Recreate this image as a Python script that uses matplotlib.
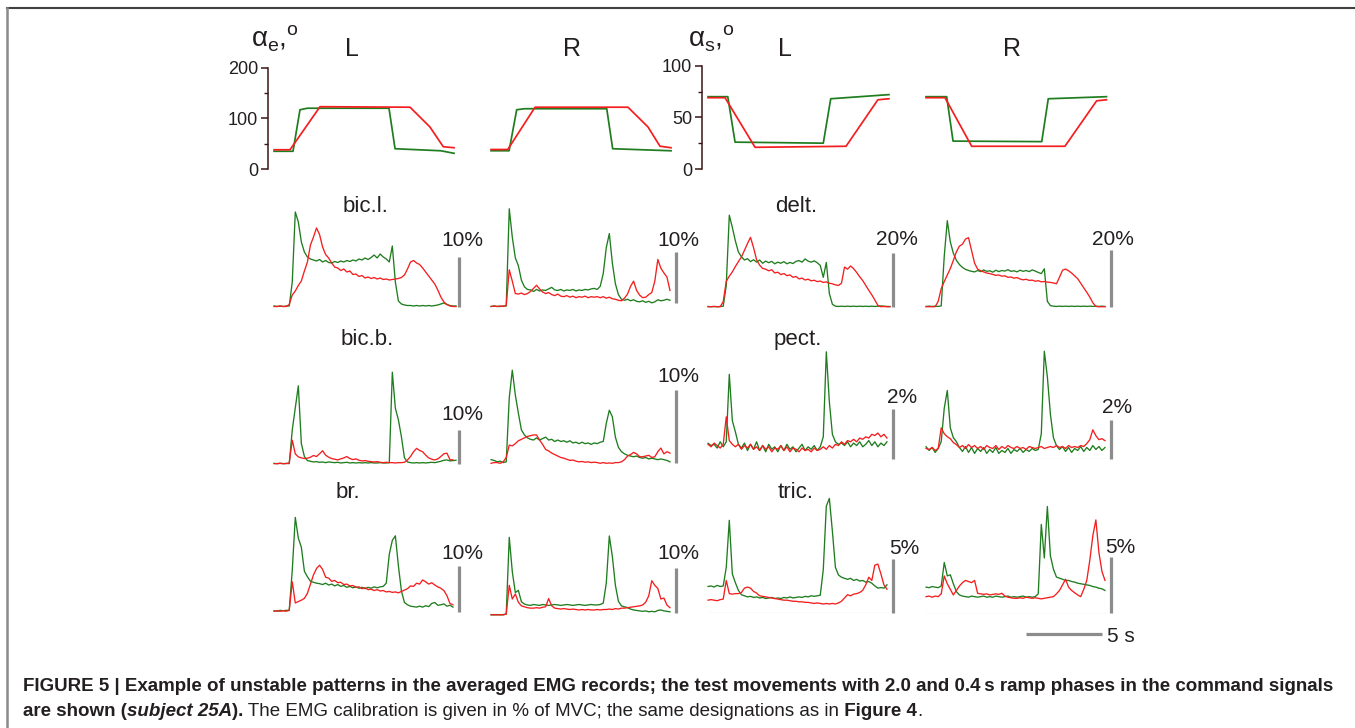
import numpy as np
import matplotlib
matplotlib.use("Agg")
import matplotlib.pyplot as plt
from matplotlib.lines import Line2D
from matplotlib.text import Annotation

nan = np.nan

# ---------------------------------------------------------------- data
# joint angles, deg (break-points of the averaged records), time in s
elbow_L_t_red = [0, 1.05, 3.03, 8.97, 10.28, 11.16, 11.87]
elbow_L_red = [38, 38, 123, 122, 83, 44, 42]
elbow_L_t_green = [0, 1.25, 1.71, 2.2, 7.58, 7.98, 11.0, 11.87]
elbow_L_green = [35, 35, 117, 120, 120, 40, 36, 31]

elbow_R_t_red = [0, 1.1, 2.9, 9.03, 10.35, 11.14, 11.87]
elbow_R_red = [38.5, 38.5, 122, 122, 83, 45, 42]
elbow_R_t_green = [0, 1.19, 1.69, 2.2, 7.63, 8.02, 11.87]
elbow_R_green = [36, 36, 117, 119, 119, 40, 36]

shoulder_L_t_red = [0, 1.12, 3.1, 9.1, 11.2, 11.93]
shoulder_L_red = [69, 69, 21, 22, 67, 68]
shoulder_L_t_green = [0, 1.3, 1.78, 7.6, 8.09, 11.93]
shoulder_L_green = [70, 70, 26, 25, 68, 72]

shoulder_R_t_red = [0, 1.25, 3.01, 9.16, 11.25, 11.9]
shoulder_R_red = [69, 69, 22, 22, 66, 67]
shoulder_R_t_green = [0, 1.36, 1.78, 7.63, 8.06, 11.9]
shoulder_R_green = [70, 70, 27, 26.5, 68, 70]

# averaged EMG, % of MVC, sampled every 0.2 s
T = np.round(np.arange(61) * 0.2, 1)

bicl_L_green = [0.2, 0.1, 0.2, 0.1, 0.2, 0.2, 5.0, 19.0, 17.0, 13.0,
                11.0, 10.0, 9.6, 9.4, 9.2, 9.5, 9.0, 9.3, 8.9, 8.8,
                9.1, 8.9, 9.2, 9.0, 9.3, 9.1, 9.4, 9.2, 9.6, 9.4,
                9.8, 9.5, 9.9, 10.4, 9.8, 10.6, 10.0, 9.6, 9.0, 12.2,
                5.0, 1.2, 0.6, 0.4, 0.3, 0.3, 0.2, 0.3, 0.2, 0.3,
                0.2, 0.3, 0.2, 0.3, 0.4, 0.6, 0.8, 0.5, 0.3, 0.2,
                0.2]
bicl_L_red = [0.1, 0.1, 0.2, 0.1, 0.1, 0.5, 2.4, 3.2, 4.3, 5.2,
              7.2, 9.0, 12.4, 14.0, 15.8, 14.5, 12.0, 10.5, 9.8, 8.8,
              8.0, 7.8, 7.3, 7.6, 7.0, 7.2, 6.5, 6.6, 6.1, 6.3,
              5.8, 6.0, 5.7, 5.9, 5.6, 5.8, 5.5, 5.6, 5.4, 5.5,
              5.6, 5.7, 5.9, 6.4, 7.6, 9.0, 9.3, 8.8, 8.5, 7.8,
              7.0, 6.2, 5.4, 4.6, 3.4, 2.0, 1.0, 0.5, 0.2, 0.1,
              0.1]
bicl_R_green = [0.1, 0.2, 0.1, 0.1, 0.2, 0.2, 19.0, 13.5, 9.5, 8.0,
                5.2, 3.9, 3.4, 3.3, 3.0, 3.4, 3.1, 3.3, 3.2, 3.5,
                3.8, 3.3, 3.2, 3.4, 3.1, 3.3, 3.2, 3.4, 3.1, 3.3,
                3.2, 3.4, 3.3, 3.5, 3.6, 3.4, 4.0, 6.5, 11.5, 14.2,
                8.5, 4.5, 2.4, 1.5, 1.3, 1.5, 1.2, 1.4, 1.1, 1.0,
                1.2, 0.9, 1.1, 0.8, 1.0, 1.4, 1.2, 1.3, 1.5, 1.3,
                nan]
bicl_R_red = [0.1, 0.2, 0.1, 0.2, 0.1, 0.3, 7.2, 5.0, 2.6, 2.5,
              2.7, 2.4, 2.6, 3.0, 3.6, 4.2, 3.5, 2.9, 2.6, 2.8,
              2.4, 2.2, 2.5, 2.1, 2.0, 2.2, 1.9, 2.1, 1.8, 2.0,
              1.9, 2.1, 1.8, 2.0, 1.9, 2.0, 1.8, 2.0, 1.7, 1.9,
              1.6, 1.5, 1.3, 1.2, 1.7, 2.5, 4.0, 5.0, 3.2, 2.3,
              1.8, 1.9, 2.4, 2.8, 5.0, 9.2, 7.5, 6.6, 5.8, 3.2,
              nan]

delt_L_green = [0.2, 0.1, 0.2, 0.1, 0.2, 0.3, 8.0, 34.0, 29.5, 24.5,
                20.4, 18.6, 17.4, 17.9, 16.8, 17.5, 16.6, 17.4, 16.2, 17.0,
                16.4, 16.9, 16.0, 16.6, 16.2, 16.8, 16.0, 16.5, 16.1, 16.9,
                17.2, 16.6, 17.8, 17.0, 16.6, 17.1, 16.4, 15.4, 11.0, 16.5,
                5.0, 1.0, 0.3, 0.2, 0.3, 0.2, 0.3, 0.2, 0.3, 0.2,
                0.3, 0.2, 0.3, 0.2, 0.3, 0.2, 0.3, 0.4, 0.3, 0.2,
                0.2]
delt_L_red = [0.1, 0.1, 0.2, 0.1, 0.1, 2.0, 9.5, 11.4, 13.0, 15.0,
              16.8, 18.5, 21.0, 23.5, 25.8, 22.0, 17.5, 15.5, 14.3, 14.0,
              13.4, 13.8, 12.6, 12.9, 12.0, 12.4, 11.6, 11.9, 11.0, 11.3,
              10.4, 10.7, 10.0, 10.3, 9.7, 9.9, 9.4, 9.6, 9.1, 9.3,
              8.8, 8.6, 8.2, 8.0, 8.8, 14.8, 14.0, 15.2, 14.2, 12.8,
              11.2, 9.8, 8.0, 6.2, 4.5, 2.6, 0.6, 0.1, 0.2, 0.1,
              0.1]
delt_R_green = [0.2, 0.3, 0.2, 0.3, 0.2, 0.4, 18.0, 30.5, 23.0, 19.0,
                16.5, 15.0, 14.0, 13.3, 12.9, 12.6, 12.4, 12.9, 12.5, 13.1,
                12.6, 12.8, 12.3, 13.0, 12.5, 12.9, 12.7, 13.2, 12.6, 12.8,
                12.4, 13.0, 12.6, 12.9, 12.5, 13.1, 12.7, 12.2, 11.8, 13.5,
                2.0, 0.5, 0.3, 0.2, 0.3, 0.2, 0.3, 0.2, 0.3, 0.2,
                0.3, 0.2, 0.3, 0.2, 0.3, 0.2, 0.3, 0.2, 0.3, 0.2,
                nan]
delt_R_red = [0.1, 0.1, 0.1, 0.1, 2.0, 6.5, 9.0, 11.3, 13.6, 16.5,
              19.5, 21.5, 22.2, 24.0, 24.5, 20.0, 15.5, 13.4, 12.8, 12.4,
              12.0, 11.8, 11.5, 11.2, 11.3, 10.9, 11.0, 10.5, 10.6, 10.2,
              10.4, 9.9, 9.6, 9.8, 9.4, 9.5, 9.1, 9.3, 8.9, 9.0,
              8.8, 8.7, 8.5, 8.2, 10.5, 13.0, 13.4, 12.8, 12.0, 11.0,
              10.0, 8.4, 6.8, 5.2, 3.5, 1.5, 0.2, 0.1, 0.1, 0.1,
              nan]

bicb_L_green = [0.2, 0.1, 0.2, 0.1, 0.2, 0.1, 10.0, 16.5, 23.0, 6.0,
                2.2, 1.0, 0.8, 0.6, 0.7, 0.5, 0.6, 0.4, 0.6, 0.5,
                0.4, 0.5, 0.3, 0.4, 0.5, 0.3, 0.4, 0.3, 0.4, 0.3,
                0.4, 0.3, 0.4, 0.3, 0.3, 0.4, 0.3, 0.3, 0.4, 27.0,
                16.4, 13.0, 8.0, 1.8, 0.6, 0.4, 0.3, 0.4, 0.3, 0.4,
                0.3, 0.4, 0.5, 0.4, 0.6, 0.8, 1.1, 1.2, 0.9, 1.0,
                1.1]
bicb_L_red = [0.1, 0.1, 0.2, 0.1, 0.1, 0.3, 7.0, 3.0, 2.1, 1.8,
              1.6, 1.7, 2.0, 2.5, 2.2, 3.0, 3.9, 2.6, 2.0, 1.6,
              1.4, 1.2, 1.5, 1.8, 2.2, 1.6, 1.3, 1.5, 1.1, 0.9,
              1.0, 0.8, 0.7, 0.6, 0.7, 0.5, 0.4, 0.5, 0.4, 0.4,
              0.3, 0.4, 0.4, 0.5, 1.2, 2.2, 3.6, 4.6, 4.0, 3.6,
              2.6, 1.8, 1.4, 1.2, 1.5, 2.2, 3.0, 3.2, 1.3, 1.2,
              nan]
bicb_R_green = [0.5, 0.4, 0.2, 0.3, 0.1, 0.2, 9.0, 12.8, 9.4, 6.9,
                4.6, 3.9, 3.5, 3.3, 3.2, 3.5, 3.2, 3.4, 3.6, 3.2,
                3.3, 3.0, 3.2, 3.0, 3.1, 2.9, 3.1, 2.8, 2.9, 2.7,
                2.9, 2.7, 2.8, 2.6, 2.8, 2.7, 2.9, 3.0, 5.5, 7.3,
                6.4, 3.6, 2.2, 1.6, 1.3, 1.1, 1.0, 0.9, 1.0, 0.8,
                0.7, 0.8, 0.6, 0.7, 0.6, 0.5, 0.6, 0.5, 0.4, 0.2,
                nan]
bicb_R_red = [0.0, 0.1, 0.1, 0.0, 0.2, 0.8, 2.5, 2.4, 2.7, 3.1,
              3.3, 3.5, 3.7, 3.8, 3.9, 3.9, 3.2, 2.6, 1.9, 1.7,
              1.4, 1.2, 1.0, 0.8, 0.7, 0.55, 0.4, 0.45, 0.3, 0.2,
              0.25, 0.15, 0.2, 0.1, 0.15, 0.1, 0.0, 0.1, 0.0, 0.05,
              0.0, 0.1, 0.1, 0.2, 0.5, 1.0, 1.2, 1.5, 1.3, 0.9,
              0.9, 1.0, 1.1, 0.8, 0.9, 1.6, 2.1, 1.3, 1.6, 1.4,
              nan]

pect_L_green = [0.64, 0.55, 0.6, 0.45, 0.7, 0.5, 0.7, 3.4, 1.55, 1.1,
                0.6, 0.45, 0.65, 0.35, 0.6, 0.4, 0.7, 0.35, 0.55, 0.3,
                0.6, 0.4, 0.5, 0.3, 0.55, 0.35, 0.6, 0.4, 0.5, 0.3,
                0.45, 0.6, 0.35, 0.5, 0.4, 0.55, 0.35, 0.5, 0.9, 4.3,
                2.3, 1.0, 0.7, 0.6, 0.65, 0.55, 0.7, 0.5, 0.65, 0.55,
                0.7, 0.5, 0.6, 0.75, 0.55, 0.7, 0.5, 0.65, 0.55, 0.7,
                nan]
pect_L_red = [0.6, 0.5, 0.65, 0.55, 0.45, 0.6, 1.7, 0.75, 0.6, 0.5,
              0.6, 0.4, 0.55, 0.45, 0.6, 0.4, 0.5, 0.35, 0.55, 0.4,
              0.5, 0.3, 0.45, 0.4, 0.55, 0.35, 0.5, 0.3, 0.45, 0.4,
              0.3, 0.45, 0.35, 0.4, 0.3, 0.45, 0.35, 0.4, 0.5, 0.4,
              0.55, 0.45, 0.6, 0.55, 0.7, 0.6, 0.75, 0.7, 0.8, 0.7,
              0.85, 0.8, 0.9, 0.85, 1.0, 0.95, 1.05, 0.9, 1.0, 0.85,
              nan]
pect_R_green = [0.64, 0.45, 0.6, 0.35, 0.55, 0.9, 2.6, 3.5, 1.6, 1.1,
                0.9, 0.6, 0.4, 0.65, 0.35, 0.6, 0.3, 0.55, 0.4, 0.6,
                0.3, 0.5, 0.35, 0.6, 0.3, 0.45, 0.35, 0.55, 0.3, 0.5,
                0.4, 0.55, 0.35, 0.5, 0.4, 0.55, 0.45, 0.5, 1.3, 5.5,
                4.2, 2.3, 1.1, 0.7, 0.5, 0.65, 0.4, 0.6, 0.35, 0.55,
                0.45, 0.65, 0.4, 0.6, 0.45, 0.7, 0.5, 0.65, 0.45, 0.6,
                nan]
pect_R_red = [0.55, 0.5, 0.6, 0.45, 0.55, 1.6, 1.3, 1.15, 1.05, 0.85,
              0.75, 0.6, 0.7, 0.55, 0.75, 0.6, 0.7, 0.55, 0.65, 0.5,
              0.7, 0.6, 0.55, 0.7, 0.5, 0.65, 0.55, 0.7, 0.6, 0.55,
              0.65, 0.55, 0.6, 0.5, 0.65, 0.6, 0.55, 0.6, 0.65, 0.55,
              0.6, 0.65, 0.6, 0.7, 0.6, 0.65, 0.55, 0.7, 0.6, 0.65,
              0.6, 0.7, 0.65, 0.8, 1.0, 1.5, 1.2, 1.0, 1.05, 0.95,
              nan]

br_L_green = [0.2, 0.1, 0.3, 0.2, 0.3, 0.3, 9.0, 20.5, 16.0, 14.0,
              8.8, 7.6, 6.6, 6.4, 6.2, 6.1, 5.9, 6.2, 5.8, 6.0,
              5.6, 5.9, 5.5, 5.7, 5.3, 5.5, 5.2, 5.4, 5.1, 5.3,
              5.0, 5.3, 5.1, 5.4, 5.2, 5.4, 5.5, 6.2, 12.5, 15.5,
              16.5, 10.0, 4.5, 2.0, 1.5, 1.2, 1.1, 1.0, 1.2, 1.0,
              1.3, 1.1, 1.8, 2.0, 1.4, 1.5, 1.7, 1.2, 1.4, 1.0,
              nan]
br_L_red = [0.1, 0.2, 0.1, 0.2, 0.1, 0.3, 6.5, 1.9, 2.2, 2.5,
            2.9, 4.0, 6.0, 8.0, 9.4, 10.1, 9.2, 7.5, 7.3, 6.6,
            6.8, 6.3, 6.4, 5.9, 6.0, 5.6, 5.7, 5.3, 5.4, 5.0,
            5.2, 4.8, 4.9, 4.6, 4.8, 4.5, 4.6, 4.3, 4.4, 4.2,
            4.3, 4.1, 4.4, 4.7, 5.0, 5.6, 5.5, 6.2, 6.0, 6.9,
            6.5, 6.0, 6.3, 5.8, 5.4, 5.1, 4.6, 3.5, 1.8, 1.5,
            nan]
br_R_green = [0.1, 0.0, 0.1, 0.0, 0.1, 0.2, 17.0, 9.5, 4.9, 5.4,
              2.9, 2.4, 2.2, 2.1, 2.3, 2.2, 2.1, 2.3, 2.2, 2.1,
              2.2, 2.3, 2.2, 2.1, 2.2, 2.3, 2.2, 2.1, 2.2, 2.3,
              2.2, 2.1, 2.2, 2.3, 2.2, 2.2, 2.3, 2.6, 7.0, 17.3,
              12.8, 6.5, 3.0, 2.0, 1.8, 1.6, 1.3, 1.1, 1.0, 0.9,
              0.8, 0.9, 0.7, 0.8, 0.7, 1.0, 1.1, 0.9, 0.8, 0.7,
              nan]
br_R_red = [0.0, 0.1, 0.0, 0.1, 0.0, 0.2, 6.5, 3.5, 4.6, 2.8,
            2.0, 1.8, 1.6, 1.5, 1.5, 1.6, 1.5, 1.7, 1.8, 3.6,
            2.0, 1.5, 1.4, 1.3, 1.4, 1.3, 1.2, 1.3, 1.2, 1.1,
            1.2, 1.1, 1.2, 1.1, 1.1, 1.2, 1.1, 1.2, 1.2, 1.3,
            1.2, 1.4, 1.3, 1.5, 1.5, 1.6, 1.7, 1.8, 1.9, 2.0,
            2.2, 2.8, 4.2, 7.5, 6.5, 5.8, 3.5, 3.7, 2.2, 1.6,
            nan]

tric_L_green = [2.45, 2.5, 2.4, 2.55, 2.45, 2.5, 4.2, 8.5, 3.6, 2.8,
                2.1, 1.7, 1.6, 1.5, 1.55, 1.45, 1.5, 1.4, 1.45, 1.35,
                1.4, 1.45, 1.35, 1.4, 1.35, 1.45, 1.4, 1.5, 1.4, 1.45,
                1.5, 1.45, 1.55, 1.5, 1.6, 1.55, 1.6, 1.65, 4.0, 9.8,
                10.5, 7.5, 4.2, 3.5, 3.3, 3.2, 3.1, 3.2, 3.0, 3.1,
                2.95, 3.0, 2.85, 2.9, 2.75, 2.5, 2.3, 2.35, 2.3, 2.6,
                nan]
tric_L_red = [1.2, 1.25, 1.2, 1.15, 1.25, 1.3, 3.0, 1.8, 1.75, 1.8,
              1.8, 1.9, 2.3, 2.4, 2.3, 2.0, 1.85, 1.6, 1.55, 1.5,
              1.45, 1.4, 1.35, 1.3, 1.25, 1.2, 1.2, 1.15, 1.1, 1.1,
              1.05, 1.05, 1.0, 1.0, 0.95, 0.9, 0.95, 0.9, 0.85, 0.9,
              0.85, 0.9, 0.85, 0.95, 1.1, 1.4, 1.7, 1.6, 1.75, 1.8,
              1.9, 2.1, 2.6, 3.3, 3.0, 4.4, 4.5, 3.6, 2.6, 2.2,
              nan]
tric_R_green = [2.4, 2.35, 2.45, 2.4, 2.35, 2.5, 4.6, 3.4, 3.5, 2.7,
                2.0, 1.7, 1.6, 1.55, 1.5, 1.6, 1.55, 1.5, 1.55, 1.6,
                1.5, 1.55, 1.5, 1.6, 1.55, 1.5, 1.55, 1.6, 1.5, 1.55,
                1.5, 1.55, 1.6, 1.5, 1.55, 1.5, 1.55, 1.8, 8.0, 5.0,
                9.6, 5.2, 4.0, 3.3, 3.2, 3.1, 3.0, 3.0, 2.9, 2.85,
                2.75, 2.7, 2.65, 2.6, 2.55, 2.45, 2.4, 2.3, 2.25, 2.1,
                nan]
tric_R_red = [1.55, 1.6, 1.5, 1.6, 1.55, 1.8, 3.4, 2.7, 2.2, 1.7,
              2.1, 2.5, 2.8, 3.0, 2.9, 2.8, 3.0, 1.85, 1.8, 1.75,
              1.8, 1.7, 1.75, 1.8, 1.75, 1.85, 1.6, 1.5, 1.45, 1.4,
              1.4, 1.45, 1.4, 1.5, 1.45, 1.4, 1.45, 1.4, 1.35, 1.4,
              1.45, 1.5, 1.55, 1.8, 2.1, 2.6, 3.1, 2.4, 2.1, 1.9,
              1.7, 1.55, 2.2, 3.0, 4.8, 7.0, 8.4, 5.5, 3.8, 3.0,
              nan]

muscles = ["bic.l.", "delt.", "bic.b.", "pect.", "br.", "tric."]
calib_pct = [[10, 10, 20, 20], [10, 10, 2, 2], [10, 10, 5, 5]]

# ---------------------------------------------------------------- layout (pixels)
W, H = 1355, 728
RED = "#f41e1e"
GREEN = "#1f7d1f"
GREY = "#8c8c8c"
INK = "#231f20"

COL_X0 = [274, 491, 708, 926]               # x of t = 0 in each column
PX_PER_S = 188 / 12.4
ROW_BASE = [[307, 307, 307, 307],
            [464, 463.3, 459.3, 459.3],
            [611.7, 615, 613.3, 614]]
BAR_PX = [[50, 51.7, 54, 56.6],
          [34, 72.7, 50, 39.3],
          [46, 45.7, 54.7, 56]]
BAR_LIFT = [[0, 3.7, 0, 0], [0, 0.6, 0, 0], [0, 1.7, 0, 1.3]]
PCT_POS = [[(462, 246.5), (678, 246), (897, 245), (1113, 245)],
           [(462, 420), (678, 381.7), (902, 403), (1117, 413)],
           [(462, 559), (678, 559), (904, 554), (1120, 553)]]
LABEL_POS = [(365, 211.7), (796, 211.7), (367, 345), (798, 345),
             (348, 498.3), (796, 498.3)]

plt.rcParams['font.family'] = ['Liberation Sans', 'DejaVu Sans']
plt.rcParams['mathtext.fontset'] = 'custom'
plt.rcParams['mathtext.rm'] = 'Liberation Sans'


def fx(x):
    return x / W


def fy(y):
    return 1 - y / H


def box(x, top, w, h):
    return fig.add_axes([x / W, 1 - (top + h) / H, w / W, h / H])


def bare(ax):
    ax.patch.set_visible(False)
    for s in ax.spines.values():
        s.set_visible(False)
    ax.set_xticks([])
    ax.set_yticks([])
    ax.set_xlim(-0.4, 12.0)


fig = plt.figure(figsize=(W / 100, H / 100), dpi=100)

# ---------------------------------------------------------------- angle records
angles = [
    (elbow_L_t_red, elbow_L_red, elbow_L_t_green, elbow_L_green),
    (elbow_R_t_red, elbow_R_red, elbow_R_t_green, elbow_R_green),
    (shoulder_L_t_red, shoulder_L_red, shoulder_L_t_green, shoulder_L_green),
    (shoulder_R_t_red, shoulder_R_red, shoulder_R_t_green, shoulder_R_green),
]
for col, (tr, r, tg, g) in enumerate(angles):
    top = 67.7 if col < 2 else 65.7
    ax = box(COL_X0[col] - 6, top, 188, 169 - top)
    bare(ax)
    ymax = 200 if col < 2 else 100
    ax.set_ylim(0, ymax)
    ax.plot(tg, g, color=GREEN, lw=1.25, clip_on=False)
    ax.plot(tr, r, color=RED, lw=1.25, clip_on=False)
    if col in (0, 2):
        ax.spines['left'].set_visible(True)
        ax.spines['left'].set_color('#3b1515')
        ax.spines['left'].set_linewidth(1.1)
        ax.set_yticks([0, ymax / 2, ymax])
        ax.set_yticklabels(['0', str(ymax // 2), str(ymax)])
        ax.set_yticks([ymax / 4, 3 * ymax / 4], minor=True)
        ax.tick_params(axis='y', which='major', direction='out', length=5,
                       width=1.1, color='#3b1515', labelsize=13,
                       labelcolor=INK, pad=2)
        ax.tick_params(axis='y', which='minor', direction='out', length=3,
                       width=1.0, color='#3b1515')

for sub, x in [("e", 251), ("s", 688)]:
    fig.text(fx(x), fy(47), "\u03b1$_\\mathrm{" + sub + "}$,$^\\mathrm{o}$",
             fontsize=20, color=INK, ha='left', va='baseline')
for lab, x in zip(["L", "R", "L", "R"], [352, 572, 785, 1012]):
    fig.text(fx(x), fy(56), lab, fontsize=18, color=INK, ha='center',
             va='baseline')

# ---------------------------------------------------------------- EMG records
emg = [
    [(bicl_L_red, bicl_L_green), (bicl_R_red, bicl_R_green),
     (delt_L_red, delt_L_green), (delt_R_red, delt_R_green)],
    [(bicb_L_red, bicb_L_green), (bicb_R_red, bicb_R_green),
     (pect_L_red, pect_L_green), (pect_R_red, pect_R_green)],
    [(br_L_red, br_L_green), (br_R_red, br_R_green),
     (tric_L_red, tric_L_green), (tric_R_red, tric_R_green)],
]
hgt = 110
bar_t = 184.5 / PX_PER_S
for row in range(3):
    for col in range(4):
        red, green = emg[row][col]
        base = ROW_BASE[row][col]
        pct = calib_pct[row][col]
        ppp = BAR_PX[row][col] / pct
        ax = box(COL_X0[col] - 6, base - hgt, 188, hgt)
        bare(ax)
        ax.set_ylim(0, hgt / ppp)
        if col >= 2 and row >= 1:
            ax.hlines(0, 0, 11.85, colors='#6e6e6e', lw=0.8,
                      linestyles=(0, (2.2, 1.6)))
        ax.plot(T, green, color=GREEN, lw=0.95, clip_on=False)
        ax.plot(T, red, color=RED, lw=0.95, clip_on=False)
        lift = BAR_LIFT[row][col] / ppp
        ax.plot([bar_t, bar_t], [lift, lift + pct], color=GREY, lw=2.3,
                solid_capstyle='butt', clip_on=False)
        cx, cy = PCT_POS[row][col]
        fig.text(fx(cx), fy(cy), f"{pct}%", fontsize=15, color=INK,
                 ha='center', va='baseline')
        if row == 2 and col == 3:
            # time calibration, 5 s
            ybar = (base - 634.3) / ppp
            t0 = (1026 - COL_X0[col]) / PX_PER_S
            ax.plot([t0, t0 + 5], [ybar, ybar], color=GREY, lw=2.3,
                    solid_capstyle='butt', clip_on=False)
            fig.text(fx(1107), fy(641.5), "5 s", fontsize=15, color=INK,
                     ha='left', va='baseline')

for name, (x, y) in zip(muscles, LABEL_POS):
    fig.text(fx(x), fy(y), name, fontsize=16, color=INK, ha='center',
             va='baseline')

# ---------------------------------------------------------------- frame
fig.add_artist(Line2D([fx(7), 1], [fy(8), fy(8)], transform=fig.transFigure,
                      color='#404040', lw=1.5))
fig.add_artist(Line2D([fx(7), fx(7)], [fy(8), 0], transform=fig.transFigure,
                      color='#8a8a8a', lw=1.8))

# ---------------------------------------------------------------- caption
CAP_FS = 13.5


def caption_line(pieces, x, y):
    text, kw = pieces[0]
    prev = fig.text(fx(x), fy(y), text, fontsize=CAP_FS, color=INK,
                    ha='left', va='baseline', **kw)
    for text, kw in pieces[1:]:
        prev = fig.add_artist(Annotation(text, xy=(1, 0), xycoords=prev,
                                         ha='left', va='bottom',
                                         fontsize=CAP_FS, color=INK, **kw))


B = dict(fontweight='bold')
BI = dict(fontweight='bold', fontstyle='italic')
N = dict()
caption_line([("FIGURE 5 | Example of unstable patterns in the averaged EMG "
               "records; the test movements with 2.0 and 0.4\u2009s ramp "
               "phases in the command signals", B)], 22.7, 691)
caption_line([("are shown (", B), ("subject 25A", BI), (").", B),
              (" The EMG calibration is given in % of MVC; the same "
               "designations as in", N), (" Figure 4", B), (".", N)],
             22.7, 716)

fig.savefig("out.png", dpi=100)
